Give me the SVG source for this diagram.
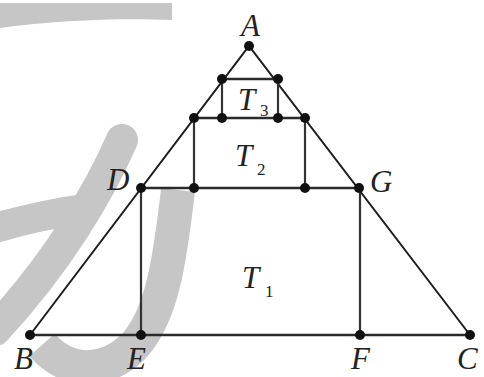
<svg xmlns="http://www.w3.org/2000/svg" width="484" height="377" viewBox="0 0 484 377">
<style>
.wm{fill:none;stroke:#c6c6c6}
.ln{stroke:#1e1e1e;stroke-width:2;fill:none}
.hl{stroke:#2a2a2a;stroke-width:2.6;fill:none}
.vl{stroke:#333;stroke-width:2.2;fill:none}
.pt{fill:#111}
.lb{font-family:"Liberation Serif",serif;font-style:italic;font-size:31px;fill:#222}
.sub{font-family:"Liberation Serif",serif;font-size:17px;fill:#222}
</style>
<rect width="484" height="377" fill="#fff"/>
<g id="watermark">
<path d="M0 3 L172 3 L172 20 C120 18 60 20 0 28 Z" fill="#c6c6c6"/>
<path class="wm" d="M122 140 C100 190 60 260 -5 330" stroke-width="32" stroke-linecap="round"/>
<path class="wm" d="M-5 228 C30 218 60 212 90 208" stroke-width="30"/>
<path class="wm" d="M178 190 C170 260 162 318 132 348 C102 376 66 372 42 345" stroke-width="34"/>
</g>
<g id="connectors">
<path class="ln" d="M30 335 L249 46 L470 335"/>
<path class="hl" d="M30 335 L470 335"/>
<path class="hl" d="M141 188 L359 188"/>
<path class="hl" d="M194 118 L305 118"/>
<path class="hl" d="M222 79 L278 79"/>
<path class="vl" d="M141 188 L141 335 M360 188 L360 335 M194 118 L194 188 M305 118 L305 188 M222 79 L222 118 M278 79 L278 118"/>
</g>
<g id="A"><circle class="pt" cx="249" cy="46" r="5"/><text class="lb" x="241" y="36">A</text></g>
<g id="D"><circle class="pt" cx="141" cy="188" r="5"/><text class="lb" x="107" y="190">D</text></g>
<g id="G"><circle class="pt" cx="359" cy="188" r="5"/><text class="lb" x="370" y="192">G</text></g>
<g id="B"><circle class="pt" cx="30" cy="335" r="5"/><text class="lb" x="14" y="369">B</text></g>
<g id="E"><circle class="pt" cx="141" cy="335" r="5"/><text class="lb" x="127" y="369">E</text></g>
<g id="F"><circle class="pt" cx="360" cy="335" r="5"/><text class="lb" x="351" y="369">F</text></g>
<g id="C"><circle class="pt" cx="470" cy="335" r="5"/><text class="lb" x="457" y="369">C</text></g>
<g id="P1"><circle class="pt" cx="194" cy="188" r="5"/></g>
<g id="P2"><circle class="pt" cx="305" cy="188" r="5"/></g>
<g id="P3"><circle class="pt" cx="194" cy="118" r="5"/></g>
<g id="P4"><circle class="pt" cx="222" cy="118" r="5"/></g>
<g id="P5"><circle class="pt" cx="278" cy="118" r="5"/></g>
<g id="P6"><circle class="pt" cx="305" cy="118" r="5"/></g>
<g id="P7"><circle class="pt" cx="222" cy="79" r="5"/></g>
<g id="P8"><circle class="pt" cx="278" cy="79" r="5"/></g>
<g id="T1"><text class="lb" x="242" y="288">T</text><text class="sub" x="265" y="297">1</text></g>
<g id="T2"><text class="lb" x="235" y="166">T</text><text class="sub" x="257" y="175">2</text></g>
<g id="T3"><text class="lb" x="238" y="110">T</text><text class="sub" x="260" y="116">3</text></g>
</svg>
